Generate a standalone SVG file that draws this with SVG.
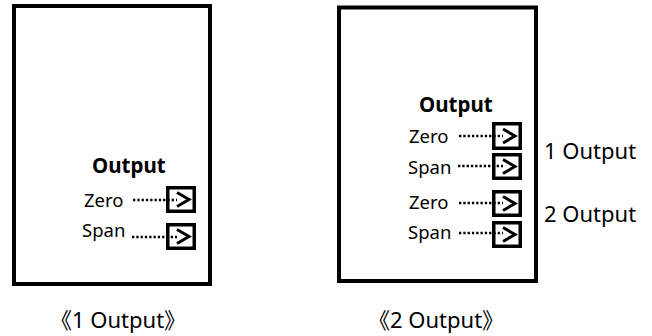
<svg xmlns="http://www.w3.org/2000/svg" width="652" height="336" viewBox="0 0 652 336">
<style>
.frame{fill:#fff;stroke:#000;stroke-width:4}
.port{fill:none;stroke:#000;stroke-width:3.5}
.chev{fill:none;stroke:#000;stroke-width:3;stroke-linejoin:miter}
.dots{fill:none;stroke:#000;stroke-width:2.5;stroke-dasharray:2.3 2}
.t{font-family:"Noto Sans","Noto Sans CJK KR",sans-serif;font-size:18.5px;fill:#000}
.h{font-family:"Noto Sans","Noto Sans CJK KR",sans-serif;font-size:20.5px;font-weight:bold;fill:#000}
.big{font-family:"Noto Sans","Noto Sans CJK KR",sans-serif;font-size:22px;fill:#000}
</style>
<rect width="652" height="336" fill="#fff"/>
<g id="panel1">
<rect class="frame" x="14" y="6" width="196" height="278"/>
<text class="h" x="92" y="173">Output</text>
<text class="t" x="84" y="206.5">Zero</text>
<text class="t" x="82" y="237">Span</text>
</g>
<g id="panel2">
<rect class="frame" x="339" y="7.5" width="197" height="273.5"/>
<text class="h" x="419" y="112">Output</text>
<text class="t" x="409" y="142.5">Zero</text>
<text class="t" x="408" y="174">Span</text>
<text class="t" x="409" y="209">Zero</text>
<text class="t" x="408" y="238.5">Span</text>
</g>
<g id="connectors">
<line class="dots" x1="133" y1="200" x2="177" y2="200"/>
<line class="dots" x1="132" y1="237" x2="177" y2="237"/>
<line class="dots" x1="459" y1="136" x2="503" y2="136"/>
<line class="dots" x1="458" y1="166" x2="503" y2="166"/>
<line class="dots" x1="459" y1="203" x2="503" y2="203"/>
<line class="dots" x1="459" y1="233" x2="503" y2="233"/>
</g>
<g id="ports1">
<g id="p1z"><rect class="port" x="167.75" y="187.75" width="26.5" height="23.5"/><polyline class="chev" points="177,192.5 189,199.5 177,206.5"/></g>
<g id="p1s"><rect class="port" x="167.75" y="224.75" width="26.5" height="23.5"/><polyline class="chev" points="177,229.5 189,236.5 177,243.5"/></g>
</g>
<g id="ports2">
<g id="p2z1"><rect class="port" x="493.75" y="123.75" width="26.5" height="24.5"/><polyline class="chev" points="503,129 515,136 503,143"/></g>
<g id="p2s1"><rect class="port" x="493.75" y="154.75" width="26.5" height="23.5"/><polyline class="chev" points="503,159.5 515,166.5 503,173.5"/></g>
<g id="p2z2"><rect class="port" x="493.75" y="191.75" width="26.5" height="23.5"/><polyline class="chev" points="503,196.5 515,203.5 503,210.5"/></g>
<g id="p2s2"><rect class="port" x="493.75" y="222.75" width="26.5" height="23.5"/><polyline class="chev" points="503,227.5 515,234.5 503,241.5"/></g>
</g>
<text class="big" x="544" y="158.5">1 Output</text>
<text class="big" x="544" y="221.5">2 Output</text>
<text class="big" x="50" y="327.5">《1 Output》</text>
<text class="big" x="368" y="327.5">《2 Output》</text>
</svg>
